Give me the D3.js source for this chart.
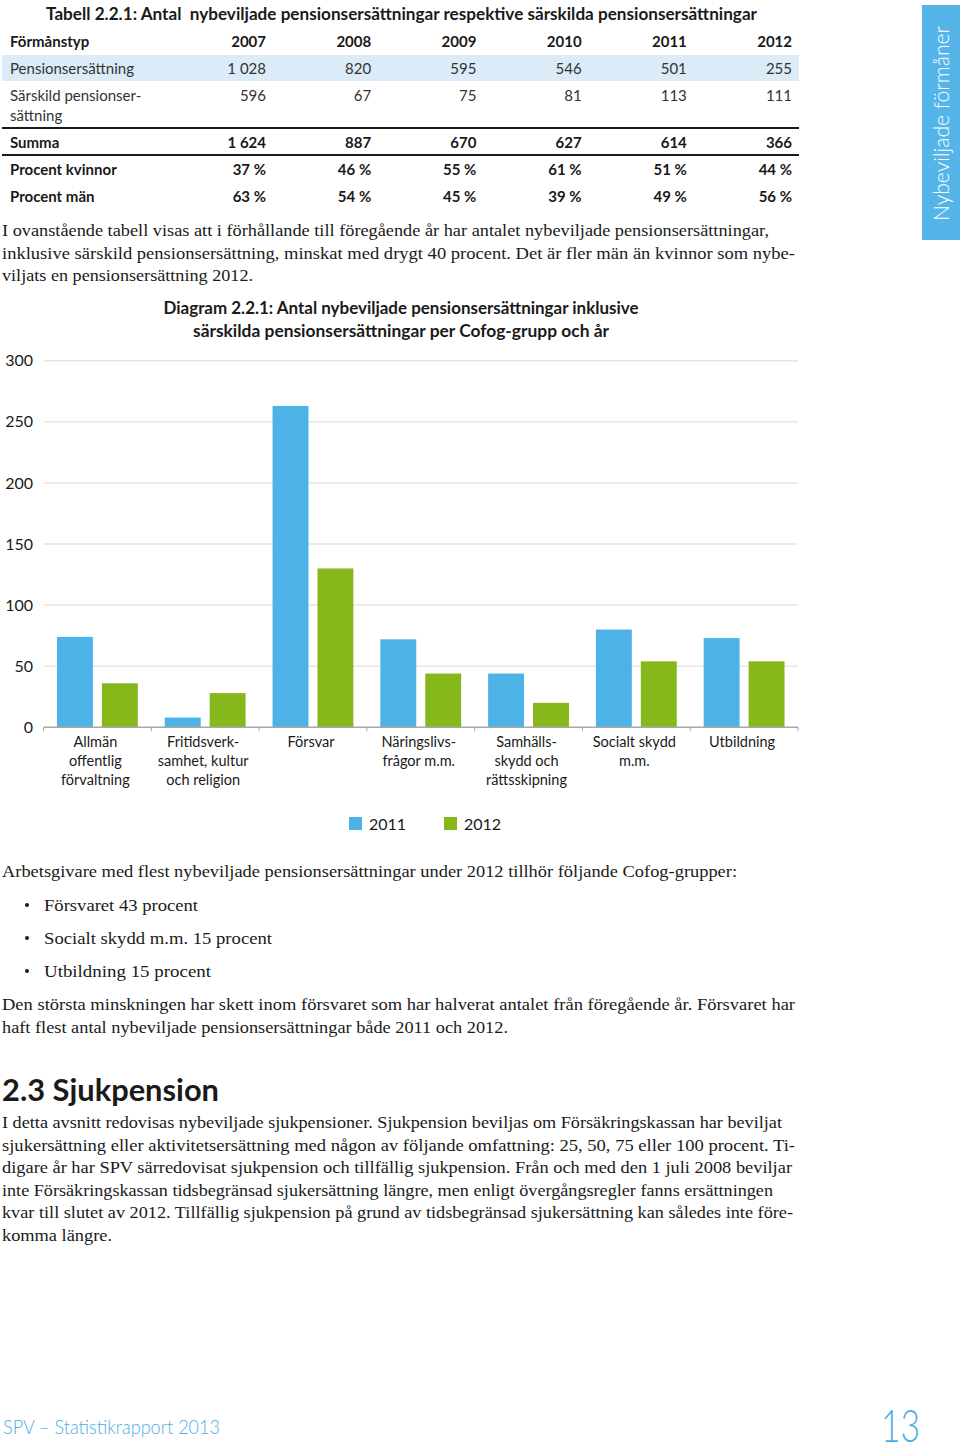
<!DOCTYPE html>
<html>
<head>
<meta charset="utf-8">
<script src="https://cdn.jsdelivr.net/npm/d3@7"></script>
<style>
  body { margin: 0; background: #fff; }
  svg { display: block; }
  .sans { font-family: Lato, "Open Sans", sans-serif; }
  .serif { font-family: "Liberation Serif", "DejaVu Serif", serif; }
</style>
</head>
<body>
<div id="page"></div>
<script>
/************************************************************
 * DATA
 ************************************************************/
var years = ["2007", "2008", "2009", "2010", "2011", "2012"];
var pensionsersattning = [1028, 820, 595, 546, 501, 255];
var sarskild = [596, 67, 75, 81, 113, 111];
var summa = [1624, 887, 670, 627, 614, 366];
var procentKvinnor = [37, 46, 55, 61, 51, 44];
var procentMan = [63, 54, 45, 39, 49, 56];

var categories = ["Allmän offentlig förvaltning", "Fritidsverksamhet, kultur och religion",
  "Försvar", "Näringslivsfrågor m.m.", "Samhällsskydd och rättsskipning",
  "Socialt skydd m.m.", "Utbildning"];
var categoryLabels = [
  ["Allmän", "offentlig", "förvaltning"],
  ["Fritidsverk-", "samhet, kultur", "och religion"],
  ["Försvar"],
  ["Näringslivs-", "frågor m.m."],
  ["Samhälls-", "skydd och", "rättsskipning"],
  ["Socialt skydd", "m.m."],
  ["Utbildning"]
];
var series = ["2011", "2012"];
var values2011 = [74, 8, 263, 72, 44, 80, 73];
var values2012 = [36, 28, 130, 44, 20, 54, 54];
var yTicks = [0, 50, 100, 150, 200, 250, 300];

var colors = {"2011": "#4db3e7", "2012": "#86b81b"};
var ink = "#1a1a1a";

/************************************************************
 * PAGE
 ************************************************************/
var W = 960, H = 1451;
var svg = d3.select("#page").append("svg")
    .attr("width", W)
    .attr("height", H);

svg.append("rect").attr("width", W).attr("height", H).attr("fill", "#fff");

// side tab
svg.append("rect")
    .attr("x", 922).attr("y", 5).attr("width", 38).attr("height", 235)
    .attr("fill", "#55b5e8");
svg.append("text")
    .attr("class", "sans")
    .attr("transform", "translate(" + [949, 221] + ") rotate(-90)")
    .attr("font-size", 21).attr("font-weight", 300)
    .attr("fill", "#fff")
    .attr("textLength", 195).attr("lengthAdjust", "spacingAndGlyphs")
    .text("Nybeviljade förmåner");

/************************************************************
 * TABLE
 ************************************************************/
var fmtNum = d3.formatLocale({decimal: ",", thousands: "\u00a0", grouping: [3], currency: ["", ""]}).format(",d");
var fmtPct = function(d) { return d + "\u00a0%"; };

var table = svg.append("g").attr("class", "sans").attr("fill", ink);

table.append("text")
    .attr("x", 46).attr("y", 20)
    .attr("font-size", 16.5).attr("font-weight", 700)
    .attr("textLength", 711).attr("lengthAdjust", "spacingAndGlyphs")
    .text("Tabell 2.2.1: Antal\u00a0 nybeviljade pensionsersättningar respektive särskilda pensionsersättningar");

var colX = d3.scalePoint().domain(years).range([266, 792]);

table.append("rect")
    .attr("x", 2).attr("y", 55).attr("width", 797).attr("height", 26)
    .attr("fill", "#dcebf8");

[128, 155].forEach(function(y) {
  table.append("line")
    .attr("x1", 2).attr("x2", 799).attr("y1", y).attr("y2", y)
    .attr("stroke", ink).attr("stroke-width", 2);
});

var rows = [
  {label: ["Förmånstyp"], vals: years, fmt: String, bold: true, y: 47},
  {label: ["Pensionsersättning"], vals: pensionsersattning, fmt: fmtNum, bold: false, y: 74},
  {label: ["Särskild pensionser-", "sättning"], vals: sarskild, fmt: fmtNum, bold: false, y: 101},
  {label: ["Summa"], vals: summa, fmt: fmtNum, bold: true, y: 148},
  {label: ["Procent kvinnor"], vals: procentKvinnor, fmt: fmtPct, bold: true, y: 175},
  {label: ["Procent män"], vals: procentMan, fmt: fmtPct, bold: true, y: 202}
];

var row = table.selectAll(".row").data(rows).enter()
    .append("g")
    .attr("class", "row")
    .attr("font-size", 15)
    .attr("font-weight", function(d) { return d.bold ? 700 : 400; })
    .attr("fill", function(d) { return d.bold ? ink : "#333"; });

row.each(function(d) {
  var g = d3.select(this);
  d.label.forEach(function(l, i) {
    g.append("text").attr("x", 10).attr("y", d.y + i * 20).text(l);
  });
  g.selectAll(".val").data(d.vals).enter()
    .append("text")
      .attr("class", "val")
      .attr("text-anchor", "end")
      .attr("x", function(v, i) { return colX(years[i]); })
      .attr("y", d.y)
      .text(function(v) { return d.fmt(v); });
});

/************************************************************
 * BODY TEXT
 ************************************************************/
// each line: [text, right edge]
function paragraph(lines, x, y0, lh) {
  var g = svg.append("g").attr("class", "serif").attr("fill", ink).attr("font-size", 17.5);
  lines.forEach(function(l, i) {
    g.append("text")
      .attr("x", x).attr("y", y0 + i * lh)
      .attr("textLength", l[1] - x).attr("lengthAdjust", "spacingAndGlyphs")
      .text(l[0]);
  });
}

paragraph([
  ["I ovanstående tabell visas att i förhållande till föregående år har antalet nybeviljade pensionsersättningar,", 769],
  ["inklusive särskild pensionsersättning, minskat med drygt 40 procent. Det är fler män än kvinnor som nybe-", 795],
  ["viljats en pensionsersättning 2012.", 253]
], 2, 236, 22.7);

paragraph([
  ["Arbetsgivare med flest nybeviljade pensionsersättningar under 2012 tillhör följande Cofog-grupper:", 737]
], 2, 877, 22.7);

var bullets = [["Försvaret 43 procent", 198], ["Socialt skydd m.m. 15 procent", 272], ["Utbildning 15 procent", 211]];
bullets.forEach(function(b, i) {
  svg.append("circle").attr("cx", 27).attr("cy", 905 + i * 33).attr("r", 2).attr("fill", ink);
  paragraph([b], 44, 911 + i * 33, 22.7);
});

paragraph([
  ["Den största minskningen har skett inom försvaret som har halverat antalet från föregående år. Försvaret har", 795],
  ["haft flest antal nybeviljade pensionsersättningar både 2011 och 2012.", 508]
], 2, 1010, 22.7);

svg.append("text")
    .attr("class", "sans")
    .attr("x", 2).attr("y", 1101)
    .attr("font-size", 31).attr("font-weight", 700).attr("fill", ink)
    .attr("textLength", 217).attr("lengthAdjust", "spacingAndGlyphs")
    .text("2.3 Sjukpension");

paragraph([
  ["I detta avsnitt redovisas nybeviljade sjukpensioner. Sjukpension beviljas om Försäkringskassan har beviljat", 782],
  ["sjukersättning eller aktivitetsersättning med någon av följande omfattning: 25, 50, 75 eller 100 procent. Ti-", 795],
  ["digare år har SPV särredovisat sjukpension och tillfällig sjukpension. Från och med den 1 juli 2008 beviljar", 792],
  ["inte Försäkringskassan tidsbegränsad sjukersättning längre, men enligt övergångsregler fanns ersättningen", 773],
  ["kvar till slutet av 2012. Tillfällig sjukpension på grund av tidsbegränsad sjukersättning kan således inte före-", 793],
  ["komma längre.", 112]
], 2, 1128, 22.6);

// footer
svg.append("text")
    .attr("class", "sans")
    .attr("x", 3).attr("y", 1434)
    .attr("font-size", 19).attr("font-weight", 300).attr("fill", "#4aaee6")
    .attr("textLength", 217).attr("lengthAdjust", "spacingAndGlyphs")
    .text("SPV – Statistikrapport 2013");
svg.append("text")
    .attr("class", "sans")
    .attr("x", 881).attr("y", 1442)
    .attr("font-size", 45).attr("font-weight", 300).attr("fill", "#4aaee6")
    .attr("textLength", 39).attr("lengthAdjust", "spacingAndGlyphs")
    .text("13");

/************************************************************
 * DIAGRAM
 ************************************************************/
var chart = svg.append("g").attr("class", "sans").attr("fill", ink);

chart.append("text")
    .attr("x", 401).attr("y", 314).attr("text-anchor", "middle")
    .attr("font-size", 16.5).attr("font-weight", 700)
    .attr("textLength", 475).attr("lengthAdjust", "spacingAndGlyphs")
    .text("Diagram 2.2.1: Antal nybeviljade pensionsersättningar inklusive");
chart.append("text")
    .attr("x", 401).attr("y", 337).attr("text-anchor", "middle")
    .attr("font-size", 16.5).attr("font-weight", 700)
    .attr("textLength", 416).attr("lengthAdjust", "spacingAndGlyphs")
    .text("särskilda pensionsersättningar per Cofog-grupp och år");

var plot = {left: 43.5, right: 798, top: 360.7, bottom: 727.3};

var x = d3.scaleBand().domain(categories).range([plot.left, plot.right]);
var xSub = d3.scaleBand().domain(series).range([0, x.bandwidth()])
    .paddingInner(0.2).paddingOuter(0.3);
var y = d3.scaleLinear().domain([0, 300]).range([plot.bottom, plot.top]);

// grid
chart.append("g").selectAll("line").data(yTicks.filter(function(t) { return t > 0; })).enter()
  .append("line")
    .attr("x1", plot.left).attr("x2", plot.right)
    .attr("y1", function(d) { return y(d); }).attr("y2", function(d) { return y(d); })
    .attr("stroke", "#e6e6e6").attr("stroke-width", 1.5);

// y axis labels
var yAxis = d3.axisLeft(y).tickValues(yTicks).tickSize(0).tickPadding(0);
var yG = chart.append("g")
    .attr("transform", "translate(" + [33, 0] + ")")
    .call(yAxis);
yG.select(".domain").remove();
yG.selectAll("text")
    .attr("font-family", "Lato, 'Open Sans', sans-serif")
    .attr("font-size", 16).attr("fill", ink);

// bars
var groups = chart.selectAll(".cat").data(categories).enter()
  .append("g")
    .attr("class", "cat")
    .attr("transform", function(d) { return "translate(" + [x(d), 0] + ")"; });

groups.selectAll("rect")
    .data(function(d, i) {
      return [{s: "2011", v: values2011[i]}, {s: "2012", v: values2012[i]}];
    })
    .enter().append("rect")
      .attr("x", function(d) { return xSub(d.s); })
      .attr("width", xSub.bandwidth())
      .attr("y", function(d) { return y(d.v); })
      .attr("height", function(d) { return y(0) - y(d.v); })
      .attr("fill", function(d) { return colors[d.s]; });

// baseline with ticks between categories
chart.append("line")
    .attr("x1", plot.left).attr("x2", plot.right)
    .attr("y1", plot.bottom).attr("y2", plot.bottom)
    .attr("stroke", "#a8a8a8").attr("stroke-width", 1.5);
chart.append("g").selectAll("line")
    .data(categories.map(function(c) { return x(c); }).concat([plot.right])).enter()
  .append("line")
    .attr("x1", function(d) { return d; }).attr("x2", function(d) { return d; })
    .attr("y1", plot.bottom).attr("y2", plot.bottom + 4)
    .attr("stroke", "#a8a8a8").attr("stroke-width", 1);

// category labels
groups.each(function(d, i) {
  var g = d3.select(this);
  categoryLabels[i].forEach(function(l, j) {
    g.append("text")
      .attr("x", x.bandwidth() / 2 - 2).attr("y", 747 + j * 19.2)
      .attr("text-anchor", "middle")
      .attr("font-size", 14.5)
      .text(l);
  });
});

// legend
var legend = chart.selectAll(".legend").data(series).enter()
  .append("g")
    .attr("class", "legend")
    .attr("transform", function(d, i) { return "translate(" + [349 + i * 95, 817] + ")"; });
legend.append("rect")
    .attr("width", 13).attr("height", 13)
    .attr("fill", function(d) { return colors[d]; });
legend.append("text")
    .attr("x", 20).attr("y", 13)
    .attr("font-size", 16)
    .text(function(d) { return d; });
</script>
</body>
</html>
